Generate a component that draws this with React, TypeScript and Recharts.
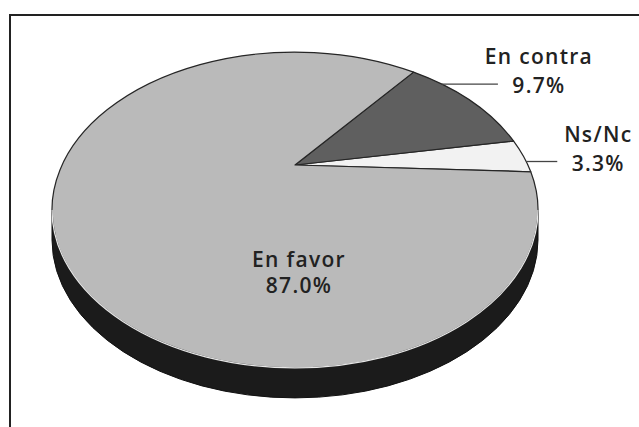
import React from "react";
import { PieChart, Pie, Cell } from "recharts";

const categories = ["Ns/Nc", "En contra", "En favor"];
const shares = [3.3, 9.7, 87.0];
const sliceColors = ["#f2f2f2", "#5f5f5f", "#bababa"];

const data = categories.map((name, i) => ({ name, value: shares[i] }));

const RAD = Math.PI / 180;
const TILT = 0.65; // ry / rx of the top face
const APEX_SHIFT = 0.285; // apex sits above the ellipse centre (perspective)
const DEPTH = 30;
const FONT = "'Open Sans', 'Noto Sans', sans-serif";
const leaderLen: Record<string, number> = { "Ns/Nc": 31, "En contra": 56 };

function Slice3D(props: any) {
  const { cx, cy, outerRadius, startAngle, endAngle, fill } = props;
  const rx = outerRadius;
  const ry = rx * TILT;
  const pt = (deg: number): [number, number] => [
    cx + rx * Math.cos(deg * RAD),
    cy - ry * Math.sin(deg * RAD),
  ];
  const ax = cx;
  const ay = cy - ry * APEX_SHIFT;
  const [x1, y1] = pt(startAngle);
  const [x2, y2] = pt(endAngle);
  const large = endAngle - startAngle > 180 ? 1 : 0;
  const top = `M${ax},${ay} L${x1},${y1} A${rx},${ry} 0 ${large} 0 ${x2},${y2} Z`;

  const sides: string[] = [];
  const rims: string[] = [];
  for (const base of [0, 360]) {
    const s = Math.max(startAngle, 180 + base);
    const e = Math.min(endAngle, 360 + base);
    if (e > s) {
      const [sx, sy] = pt(s);
      const [ex, ey] = pt(e);
      sides.push(
        `M${sx},${sy} A${rx},${ry} 0 0 0 ${ex},${ey} L${ex},${ey + DEPTH} A${rx},${ry} 0 0 1 ${sx},${sy + DEPTH} Z`
      );
      rims.push(`M${sx},${sy} A${rx},${ry} 0 0 0 ${ex},${ey}`);
    }
  }

  return (
    <g>
      {sides.map((d, i) => (
        <path key={"s" + i} d={d} fill="#1b1b1b" stroke="#111" strokeWidth={1} />
      ))}
      <path d={top} fill={fill} stroke="#262626" strokeWidth={1.2} strokeLinejoin="round" />
      {rims.map((d, i) => (
        <path key={"r" + i} d={d} fill="none" stroke="#e6e6e6" strokeWidth={1.2} />
      ))}
    </g>
  );
}

function renderLabel(props: any) {
  const { cx, cy, outerRadius, endAngle, name, value } = props;
  const rx = outerRadius;
  const ry = rx * TILT;
  const txt = {
    fontFamily: FONT,
    fontSize: 21,
    fontWeight: 600,
    letterSpacing: 1.3,
    fill: "#222",
    textAnchor: "middle" as const,
  };
  const pct = `${Number(value).toFixed(1)}%`;

  if (!(name in leaderLen)) {
    // big slice: label sits on the face
    return (
      <g>
        <text x={cx + 4} y={cy + ry * 0.36} {...txt}>{name}</text>
        <text x={cx + 4} y={cy + ry * 0.525} {...txt}>{pct}</text>
      </g>
    );
  }

  const a = (endAngle - 8) * RAD;
  const x0 = cx + rx * Math.cos(a);
  const y0 = cy - ry * Math.sin(a);
  const x1 = x0 + leaderLen[name];
  const tx = x1 + 41;
  return (
    <g>
      <line x1={x0} y1={y0} x2={x1} y2={y0} stroke="#444" strokeWidth={1.3} />
      <text x={tx} y={y0 - 20} {...txt}>{name}</text>
      <text x={tx} y={y0 + 9} {...txt}>{pct}</text>
    </g>
  );
}

export default function App() {
  return (
    <div style={{ position: "absolute", left: 0, top: 0, width: 639, height: 427, background: "#fff" }}>
      <div
        style={{
          position: "absolute",
          left: 9,
          top: 14,
          right: 0,
          bottom: 0,
          borderTop: "2px solid #222",
          borderLeft: "2px solid #222",
        }}
      />
      <div style={{ position: "absolute", left: 0, top: 0 }}>
        <PieChart width={639} height={427} margin={{ top: 0, right: 0, bottom: 0, left: 0 }}>
          <Pie
            data={data}
            dataKey="value"
            nameKey="name"
            cx={295}
            cy={210}
            outerRadius={243}
            startAngle={14}
            endAngle={374}
            shape={Slice3D}
            activeShape={Slice3D}
            inactiveShape={Slice3D}
            label={renderLabel}
            labelLine={false}
            isAnimationActive={false}
          >
            {data.map((d, i) => (
              <Cell key={d.name} fill={sliceColors[i]} />
            ))}
          </Pie>
        </PieChart>
      </div>
    </div>
  );
}
